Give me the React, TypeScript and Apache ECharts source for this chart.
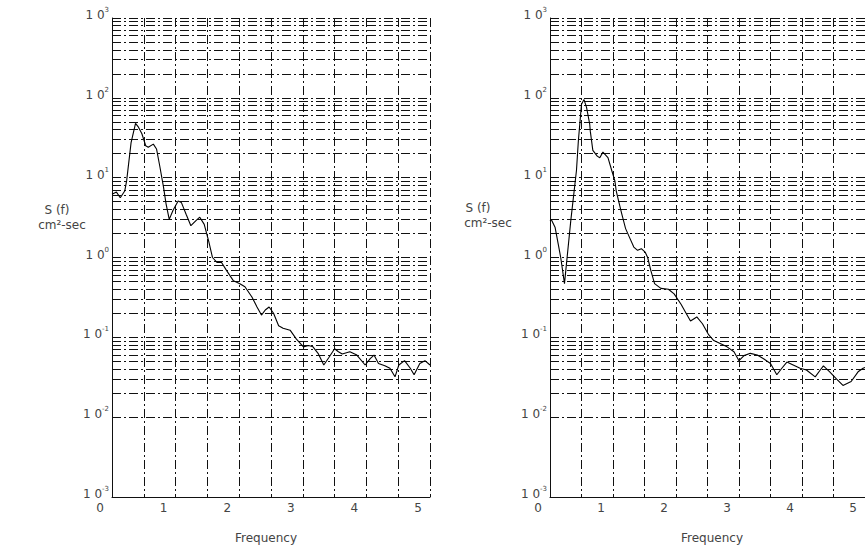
import React, { useEffect, useRef } from "react";
import * as echarts from "echarts";

// Tick values
const xTickValues = [0, 1, 2, 3, 4, 5];
const decadeExponents = [-3, -2, -1, 0, 1, 2, 3];
const minorMultipliers = [2, 3, 4, 5, 6, 7, 8, 9];

// Left panel spectrum
const leftFreq = [
  0.0, 0.07, 0.13, 0.2, 0.23, 0.3, 0.37, 0.41, 0.47, 0.53, 0.57, 0.65, 0.7, 0.75, 0.81, 0.85, 0.9, 0.96,
  1.04, 1.09, 1.17, 1.24, 1.32, 1.38, 1.45, 1.52, 1.58, 1.65, 1.72, 1.8, 1.91, 2.01, 2.09, 2.2, 2.28,
  2.35, 2.41, 2.47, 2.54, 2.62, 2.69, 2.8, 2.9, 3.01, 3.09, 3.16, 3.24, 3.33, 3.41, 3.5, 3.56, 3.62,
  3.74, 3.85, 3.98, 4.06, 4.12, 4.19, 4.29, 4.37, 4.45, 4.51, 4.6, 4.69, 4.75, 4.84, 4.92, 5.0,
];
const leftS = [
  6.2, 6.6, 5.6, 6.8, 9.1, 27.5, 47.9, 43.6, 35.5, 25.1, 24.0, 26.3, 22.9, 14.1, 7.6, 4.7, 3.0, 3.9,
  5.1, 4.9, 3.4, 2.5, 2.9, 3.2, 2.6, 1.6, 1.0, 0.87, 0.87, 0.69, 0.51, 0.47, 0.43, 0.32, 0.24,
  0.19, 0.22, 0.24, 0.2, 0.14, 0.13, 0.123, 0.095, 0.076, 0.079, 0.076, 0.063, 0.045, 0.056, 0.072, 0.066, 0.062,
  0.066, 0.06, 0.045, 0.054, 0.06, 0.047, 0.044, 0.041, 0.032, 0.045, 0.051, 0.041, 0.034, 0.047, 0.051, 0.045,
];

// Right panel spectrum
const rightFreq = [
  0.0, 0.02, 0.08, 0.13, 0.17, 0.23, 0.33, 0.42, 0.45, 0.5, 0.54, 0.58, 0.63, 0.64, 0.68, 0.75, 0.79, 0.84,
  0.92, 0.98, 1.03, 1.05, 1.1, 1.14, 1.2, 1.26, 1.33, 1.39, 1.45, 1.51, 1.55, 1.6, 1.66, 1.76, 1.88, 1.97,
  2.08, 2.16, 2.23, 2.33, 2.42, 2.52, 2.6, 2.71, 2.81, 2.92, 3.0, 3.08, 3.18, 3.29, 3.39, 3.5, 3.6, 3.68,
  3.76, 3.86, 3.97, 4.07, 4.21, 4.29, 4.34, 4.44, 4.55, 4.65, 4.78, 4.89, 4.97, 5.0,
];
const rightS = [
  2.9, 3.0, 2.4, 1.48, 1.0, 0.47, 2.9, 12.3, 28.8, 83, 95, 76, 47, 38, 22, 18.6, 17.8, 20.9,
  17.8, 12.3, 9.1, 6.9, 4.7, 3.5, 2.3, 1.8, 1.35, 1.23, 1.29, 1.17, 1.0, 0.69, 0.47, 0.41, 0.4, 0.35,
  0.26, 0.2, 0.16, 0.18, 0.148, 0.107, 0.091, 0.083, 0.076, 0.066, 0.051, 0.059, 0.063, 0.06, 0.054, 0.047, 0.034, 0.041,
  0.049, 0.045, 0.041, 0.039, 0.032, 0.039, 0.044, 0.037, 0.03, 0.025, 0.028, 0.037, 0.041, 0.042,
];

const FONT = "DejaVu Sans";
const INK = "#111";
const TEXT = "#444";
const gridDash = [9, 3, 2, 3];

function minorGridValues(): number[] {
  const out: number[] = [];
  decadeExponents.forEach((e) => {
    if (e >= 3) return;
    minorMultipliers.forEach((m) => out.push(m * Math.pow(10, e)));
  });
  return out;
}

function makeXAxis(gridIndex: number) {
  return {
    type: "value",
    gridIndex,
    min: 0,
    max: 5,
    interval: 0.5,
    axisLine: { show: true, onZero: false, lineStyle: { color: INK, width: 1 } },
    axisTick: { show: false },
    splitLine: { show: true, lineStyle: { color: INK, width: 1, type: gridDash } },
    axisLabel: {
      show: true,
      showMinLabel: true,
      showMaxLabel: true,
      margin: 5,
      padding: [0, 24, 0, 0],
      fontFamily: FONT,
      fontSize: 12,
      color: TEXT,
      formatter: (v: number) => (xTickValues.indexOf(v) >= 0 ? String(v) : ""),
    },
  };
}

function makeYAxis(gridIndex: number) {
  return {
    type: "log",
    logBase: 10,
    gridIndex,
    min: Math.pow(10, decadeExponents[0]),
    max: Math.pow(10, decadeExponents[decadeExponents.length - 1]),
    axisLine: { show: true, onZero: false, lineStyle: { color: INK, width: 1 } },
    axisTick: { show: true, inside: true, length: 4, lineStyle: { color: INK } },
    splitLine: { show: true, lineStyle: { color: INK, width: 1, type: gridDash } },
    axisLabel: {
      show: true,
      margin: 3,
      padding: [0, 0, 6, 0],
      formatter: (v: number) => `{b|1 0}{s|${Math.round(Math.log10(v))}}`,
      rich: {
        b: { fontFamily: FONT, fontSize: 12, color: TEXT, lineHeight: 17 },
        s: { fontFamily: FONT, fontSize: 7, color: TEXT, lineHeight: 17, verticalAlign: "top" },
      },
    },
  };
}

function makeSeries(idx: number, xs: number[], ys: number[]) {
  return {
    type: "line",
    xAxisIndex: idx,
    yAxisIndex: idx,
    data: xs.map((x, i) => [x, ys[i]]),
    showSymbol: false,
    symbol: "none",
    lineStyle: { color: "#000", width: 1.1 },
    z: 5,
    markLine: {
      silent: true,
      symbol: "none",
      label: { show: false },
      lineStyle: { color: INK, width: 1, type: gridDash },
      z: 1,
      data: minorGridValues().map((v) => ({ yAxis: v })),
    },
  };
}

function titleTexts(cxS: number, cxC: number, cy: number, cxF: number) {
  const base = { font: `12px "${FONT}"`, fill: TEXT, align: "center", verticalAlign: "middle" };
  return [
    { type: "text", x: cxS, y: cy, style: { ...base, text: "S (f)" } },
    { type: "text", x: cxC, y: cy + 15, style: { ...base, text: "cm²-sec" } },
    { type: "text", x: cxF, y: 538, style: { ...base, text: "Frequency" } },
  ];
}

export default function App() {
  const ref = useRef<HTMLDivElement>(null);
  useEffect(() => {
    if (!ref.current) return;
    const chart = echarts.init(ref.current, null, { renderer: "svg" });
    chart.setOption({
      animation: false,
      backgroundColor: "#fff",
      grid: [
        { left: 112, top: 18, width: 318, height: 479 },
        { left: 550, top: 18, width: 317, height: 479 },
      ],
      xAxis: [makeXAxis(0), makeXAxis(1)],
      yAxis: [makeYAxis(0), makeYAxis(1)],
      series: [makeSeries(0, leftFreq, leftS), makeSeries(1, rightFreq, rightS)],
      graphic: [...titleTexts(57, 62, 210, 266), ...titleTexts(478, 488, 208, 712)],
    });
    return () => chart.dispose();
  }, []);
  return (
    <div
      ref={ref}
      style={{ position: "fixed", left: 0, top: 0, width: 865, height: 550, background: "#fff" }}
    />
  );
}
